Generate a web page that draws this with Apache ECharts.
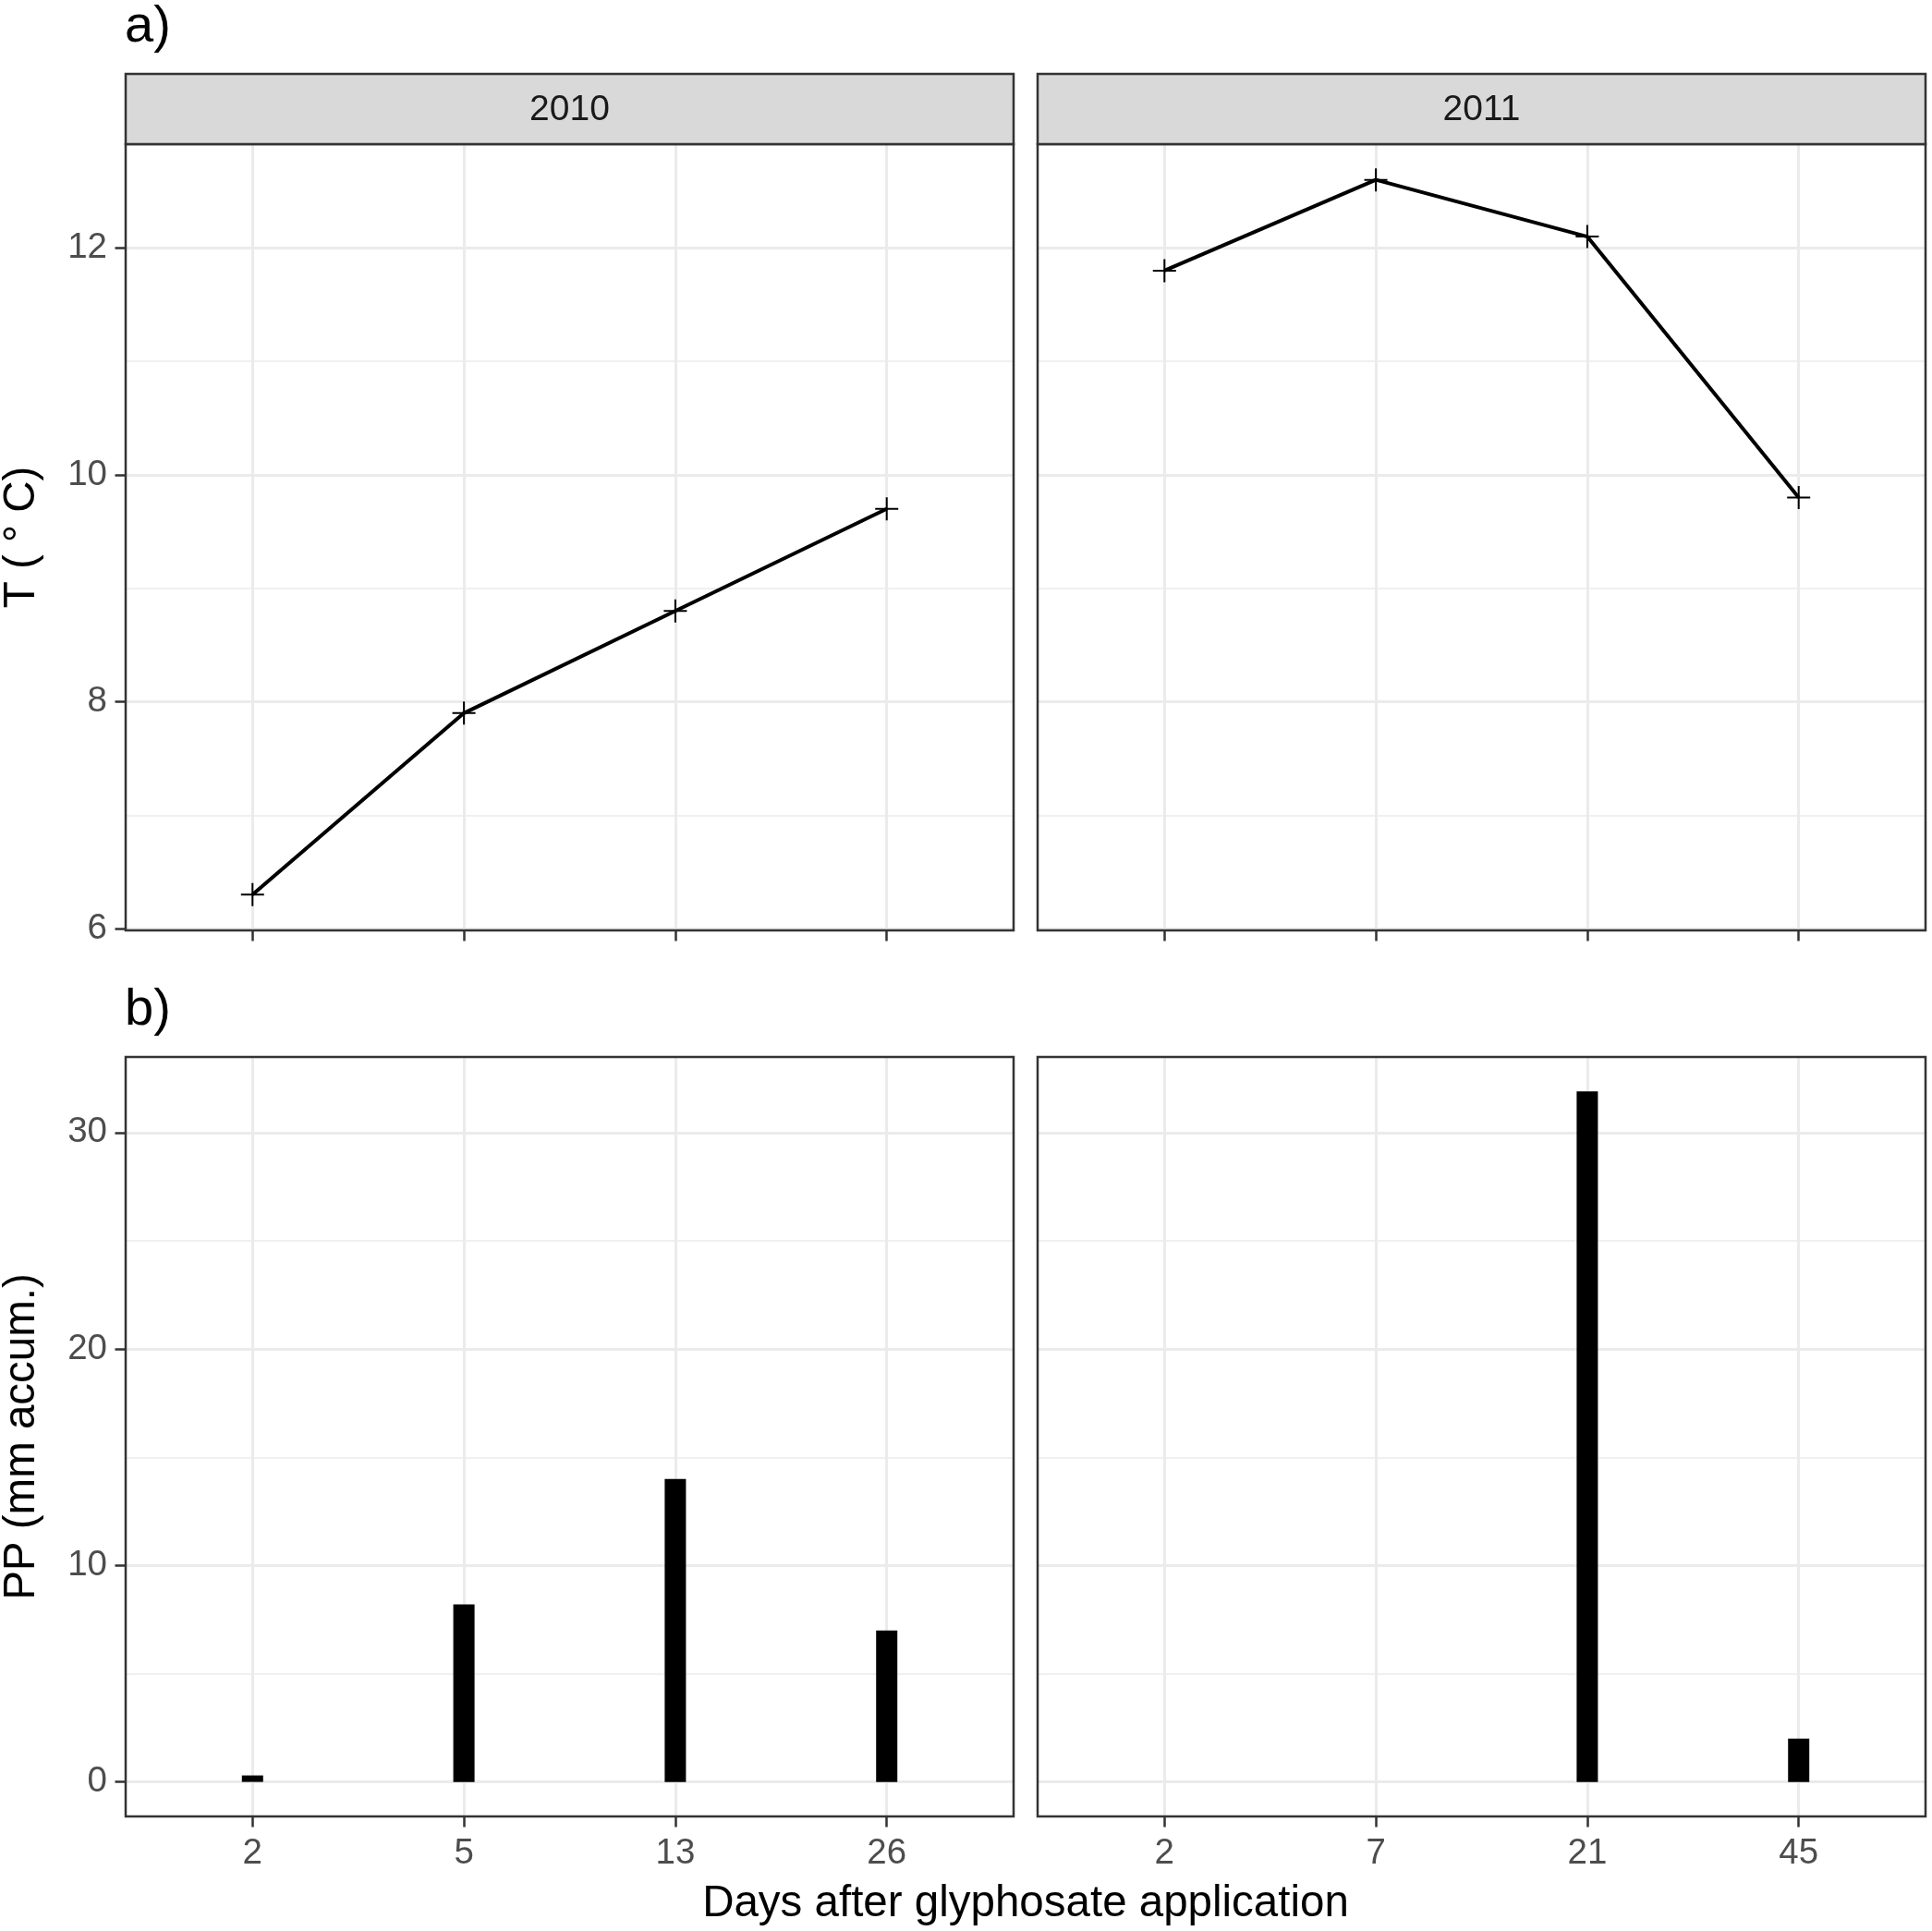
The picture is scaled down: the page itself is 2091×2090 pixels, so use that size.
<!DOCTYPE html>
<html><head><meta charset="utf-8">
<script src="https://cdn.jsdelivr.net/npm/echarts@6/dist/echarts.min.js"></script>
<style>html,body{margin:0;padding:0;background:#fff}#c{width:2091px;height:2090px}</style>
</head><body><div id="c"></div>
<script>
// ---- data ----
const years = ['2010', '2011'];
const days2010 = ['2', '5', '13', '26'];
const days2011 = ['2', '7', '21', '45'];
const temp2010 = [6.3, 7.9, 8.8, 9.7];
const temp2011 = [11.8, 12.6, 12.1, 9.8];
const rain2010 = [0.3, 8.2, 14.0, 7.0];
const rain2011 = [0, 0, 31.9, 2.0];
const tempTicks = [6, 8, 10, 12];
const tempMinor = [7, 9, 11];
const rainTicks = [0, 10, 20, 30];
const rainMinor = [5, 15, 25];
const tags = ['a)', 'b)'];
const yTitles = ['T ( \u00B0 C)', 'PP (mm accum.)'];
const xTitle = 'Days after glyphosate application';

// ---- layout / style ----
const FONT = '"Liberation Sans", Arial, sans-serif';
const colL = [136, 1123], PW = 961;
const rowT = [156, 1144], rowH = [851, 822];
const stripTop = 80, stripH = 76;
const tickFs = 38.5, stripFs = 39, titleFs = 47.5, tagFs = 56;

function expand(vals) {
  const lo = Math.min(...vals), hi = Math.max(...vals), d = (hi - lo) * 0.05;
  return [lo - d, hi + d];
}
const tempRange = expand(temp2010.concat(temp2011));
const rainRange = expand(rain2010.concat(rain2011, [0]));

const daysByCol = [days2010, days2011];
const tempByCol = [temp2010, temp2011];
const rainByCol = [rain2010, rain2011];
const catIdx = [1, 2, 3, 4];

const grids = [], xAxes = [], yAxes = [], series = [], graphics = [];
for (let r = 0; r < 2; r++) {
  for (let c = 0; c < 2; c++) {
    const g = grids.length;
    grids.push({left: colL[c], top: rowT[r], width: PW, height: rowH[r], containLabel: false});
    const days = daysByCol[c];
    xAxes.push({
      type: 'value', gridIndex: g, min: 0.4, max: 4.6, position: 'bottom',
      axisLine: {show: false, onZero: false},
      axisTick: {show: true, customValues: catIdx, length: 11.5, lineStyle: {color: '#333333', width: 2.5}},
      axisLabel: {show: r === 1, customValues: catIdx, margin: 21, fontSize: tickFs, color: '#4D4D4D', fontFamily: FONT,
        formatter: v => days[Math.round(v) - 1]},
      splitLine: {show: true, lineStyle: {color: '#EBEBEB', width: 3}}
    });
    const range = r === 0 ? tempRange : rainRange;
    const ticks = r === 0 ? tempTicks : rainTicks;
    const minor = r === 0 ? tempMinor : rainMinor;
    const yMajor = yAxes.length;
    yAxes.push({
      type: 'value', gridIndex: g, min: range[0], max: range[1], position: 'left',
      axisLine: {show: false, onZero: false},
      axisTick: {show: c === 0, customValues: ticks, length: 11.5, lineStyle: {color: '#333333', width: 2.5}},
      axisLabel: {show: c === 0, customValues: ticks, margin: 20, fontSize: tickFs, color: '#4D4D4D', fontFamily: FONT},
      splitLine: {show: true, lineStyle: {color: '#EBEBEB', width: 3}}
    });
    yAxes.push({
      type: 'value', gridIndex: g, min: range[0], max: range[1], position: 'right',
      axisLine: {show: false, onZero: false},
      axisTick: {show: false, customValues: minor},
      axisLabel: {show: false, customValues: minor},
      splitLine: {show: true, lineStyle: {color: '#EBEBEB', width: 1.5}}
    });
    if (r === 0) {
      series.push({
        type: 'line', xAxisIndex: g, yAxisIndex: yMajor,
        data: tempByCol[c].map((v, i) => [catIdx[i], v]),
        lineStyle: {color: '#000', width: 4},
        itemStyle: {color: '#000'},
        symbol: 'path://M46,0 L54,0 L54,46 L100,46 L100,54 L54,54 L54,100 L46,100 L46,54 L0,54 L0,46 L46,46 Z',
        symbolSize: 25, showSymbol: true, animation: false, z: 5
      });
    } else {
      series.push({
        type: 'bar', xAxisIndex: g, yAxisIndex: yMajor,
        data: rainByCol[c].map((v, i) => [catIdx[i], v]),
        barWidth: 23, itemStyle: {color: '#000'}, animation: false, z: 5
      });
    }
    // panel border
    graphics.push({type: 'rect', z: 100, shape: {x: colL[c], y: rowT[r], width: PW, height: rowH[r]},
      style: {fill: 'none', stroke: '#333333', lineWidth: 2.5}});
  }
}
// strips
for (let c = 0; c < 2; c++) {
  graphics.push({type: 'rect', z: 100, shape: {x: colL[c], y: stripTop, width: PW, height: stripH},
    style: {fill: '#D9D9D9', stroke: '#333333', lineWidth: 2.5}});
  graphics.push({type: 'text', z: 101, x: colL[c] + PW / 2, y: stripTop + stripH / 2 + 1,
    style: {text: years[c], fontSize: stripFs, fontFamily: FONT, fill: '#1A1A1A', align: 'center', verticalAlign: 'middle'}});
}
// tags
graphics.push({type: 'text', z: 101, x: 135, y: 30,
  style: {text: tags[0], fontSize: tagFs, fontFamily: FONT, fill: '#000', align: 'left', verticalAlign: 'middle'}});
graphics.push({type: 'text', z: 101, x: 135, y: 1094,
  style: {text: tags[1], fontSize: tagFs, fontFamily: FONT, fill: '#000', align: 'left', verticalAlign: 'middle'}});
// y titles
for (let r = 0; r < 2; r++) {
  graphics.push({type: 'text', z: 101, x: 24, y: rowT[r] + rowH[r] / 2, rotation: Math.PI / 2,
    style: {text: yTitles[r], fontSize: titleFs, fontFamily: FONT, fill: '#000', align: 'center', verticalAlign: 'middle'}});
}
// x title
graphics.push({type: 'text', z: 101, x: (colL[0] + colL[1] + PW) / 2, y: 2061,
  style: {text: xTitle, fontSize: titleFs, fontFamily: FONT, fill: '#000', align: 'center', verticalAlign: 'middle'}});

const chart = echarts.init(document.getElementById('c'), null, {renderer: 'canvas'});
chart.setOption({
  backgroundColor: '#fff',
  animation: false,
  grid: grids, xAxis: xAxes, yAxis: yAxes, series: series,
  graphic: {elements: graphics}
});
</script>
</body></html>
